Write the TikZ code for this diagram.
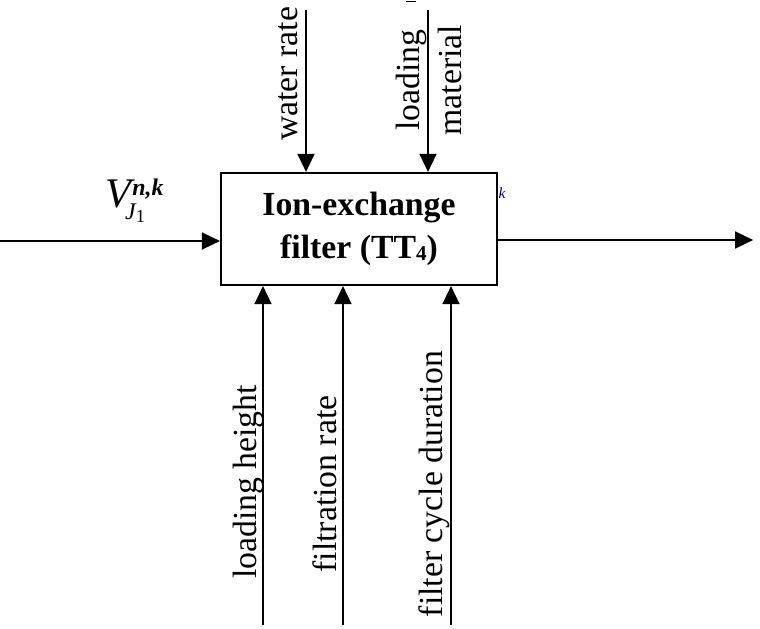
\documentclass[tikz,border=0pt]{standalone}
\usepackage{fontspec}
\setmainfont{Liberation Serif}
\usetikzlibrary{arrows.meta}
\tikzset{
  arr/.style={line width=1.5pt,-{Triangle[length=0.45cm,width=0.42cm]}},
  lbl/.style={rotate=90,font=\fontsize{24}{29.5}\selectfont,align=center,inner sep=0pt}
}
\newcommand{\supfont}{\fontsize{17}{17}\selectfont}
\begin{document}
\begin{tikzpicture}
\useasboundingbox (0,0) rectangle (19,15.7);
% main block
\node[draw,line width=1.5pt,minimum width=6.9cm,minimum height=2.8cm,align=center,
  font=\fontsize{24}{30.5}\selectfont\bfseries] (filter) at (8.975,9.975)
  {Ion-exchange\\filter (TT\raisebox{-0.1ex}{\fontsize{15}{15}\selectfont 4})};
% free ends
\coordinate (in) at (0,9.675);
\coordinate (out) at (18.83,9.70);
\coordinate (water) at (7.65,15.45);
\coordinate (mat) at (10.7,15.45);
\coordinate (height) at (6.575,0.075);
\coordinate (frate) at (8.575,0.075);
\coordinate (cycle) at (11.275,0.075);
% arrows
\draw[arr] (in) -- (in -| filter.west);
\draw[arr] (out -| filter.east) -- (out);
\draw[arr] (water) -- (water |- filter.north);
\draw[arr] (mat) -- (mat |- filter.north);
\draw[arr] (height) -- (height |- filter.south);
\draw[arr] (frate) -- (frate |- filter.south);
\draw[arr] (cycle) -- (cycle |- filter.south);
% labels
\node[anchor=base west,inner sep=0pt,font=\fontsize{30}{30}\selectfont\itshape] (vin) at (2.62,10.5)
  {V\rlap{\raisebox{9pt}{\supfont\bfseries\itshape\kern1pt n,k}}%
   \kern-4pt\raisebox{-8pt}{\supfont J\raisebox{-2pt}{\fontsize{13}{13}\selectfont\upshape 1}}};
\node[lbl] (lwater) at (7.2,13.85) {water rate};
\node[lbl] (lmat) at (10.72,13.7) {loading\\material};
\node[lbl] (lheight) at (6.2,3.65) {loading height};
\node[lbl] (lfrate) at (8.125,3.6) {filtration rate};
\node[lbl] (lcycle) at (10.85,3.6) {filter cycle duration};
\node[text=blue!50!black,font=\fontsize{11}{11}\selectfont\itshape] (kk) at (12.55,10.88) {k};
\draw[line width=0.6pt] (10.15,15.67) -- (10.4,15.67);
\end{tikzpicture}
\end{document}
